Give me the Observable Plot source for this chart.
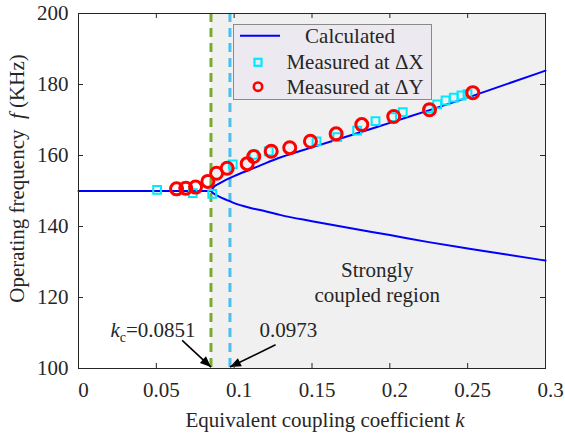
<!DOCTYPE html>
<html>
<head>
<meta charset="utf-8">
<script src="https://cdn.jsdelivr.net/npm/d3@7"></script>
<script src="https://cdn.jsdelivr.net/npm/@observablehq/plot@0.6"></script>
<style>
  body { margin: 0; background: #fff; }
  #chart { width: 565px; height: 435px; }
</style>
</head>
<body>
<div id="chart"></div>
<script>
// Critical coupling and the split point seen in the measurements
const kCritical = 0.0851;
const kSplit = 0.0973;
const kMax = 0.3;

// Axis ticks
const xTicks = [0, 0.05, 0.1, 0.15, 0.2, 0.25, 0.3];
const xTickLabels = ["0", "0.05", "0.1", "0.15", "0.2", "0.25", "0.3"];
const yTicks = [100, 120, 140, 160, 180, 200];

// Calculated operating frequency (kHz): single mode below kc, two branches above
const flatK = [0, 0.0851];
const flatF = [150, 150];
const upperK = [0.0851, 0.087, 0.09, 0.095, 0.1, 0.11, 0.12, 0.13, 0.15, 0.175, 0.2, 0.225, 0.25, 0.275, 0.3];
const upperF = [150, 151.2, 152.0, 153.2, 154.2, 156.0, 157.8, 159.5, 162.3, 165.7, 169.2, 172.7, 176.3, 180.1, 183.9];
const lowerK = [0.0851, 0.087, 0.09, 0.095, 0.1, 0.11, 0.12, 0.13, 0.15, 0.175, 0.2, 0.225, 0.25, 0.275, 0.3];
const lowerF = [150, 149.2, 148.5, 147.5, 146.6, 145.3, 144.3, 143.2, 141.5, 139.5, 137.6, 135.6, 133.8, 132.1, 130.4];

// Measured at ΔX
const measXK = [0.0505, 0.0734, 0.0859, 0.0991, 0.1126, 0.1222, 0.1529, 0.1662, 0.179, 0.1908, 0.2015, 0.2083, 0.225, 0.2304, 0.2358, 0.2411, 0.246, 0.2499];
const measXF = [150.3, 149.4, 149.2, 157.5, 160.2, 161.2, 164.0, 165.2, 167.0, 169.7, 170.8, 172.2, 173.2, 174.4, 175.5, 176.3, 176.9, 177.3];

// Measured at ΔY
const measYK = [0.063, 0.0689, 0.0752, 0.0831, 0.0887, 0.0955, 0.1084, 0.1126, 0.1238, 0.1357, 0.149, 0.1655, 0.182, 0.2025, 0.2255, 0.2533];
const measYF = [150.6, 150.8, 151.1, 152.7, 155.0, 156.4, 157.7, 159.7, 161.2, 162.2, 164.0, 166.1, 168.7, 171.0, 172.9, 177.7];

const legendLabels = ["Calculated", "Measured at \u0394X", "Measured at \u0394Y"];

// Tables built from the arrays above
const calc = [
  ...flatK.map((k, i) => ({k, f: flatF[i], branch: "flat"})),
  ...upperK.map((k, i) => ({k, f: upperF[i], branch: "upper"})),
  ...lowerK.map((k, i) => ({k, f: lowerF[i], branch: "lower"}))
];
const measX = measXK.map((k, i) => ({k, f: measXF[i]}));
const measY = measYK.map((k, i) => ({k, f: measYF[i]}));
const region = [{x1: kCritical, x2: kMax, y1: yTicks[0], y2: yTicks[yTicks.length - 1]}];

// Annotation texts and arrows (arrow tips at the bottom of the dashed lines)
const noteKc = [{k: 0.0752, f: 110.7, text: "kc=0.0851"}];
const noteSplit = [{k: 0.1163, f: 110.7, text: "0.0973"}];
const arrows = [
  {x1: 0.0666, y1: 107.9, x2: kCritical, y2: 100.4},
  {x1: 0.1266, y1: 106.7, x2: kSplit, y2: 100.4}
];
const regionNote = [{k: 0.1919, f: 124.6, text: "Strongly\ncoupled region"}];

const font = "'Liberation Serif', 'Times New Roman', Times, serif";
const ink = "#262626";
const W = 565, H = 435, mL = 78, mR = 20, mT = 13, mB = 67;
const frameW = W - mL - mR, frameH = H - mT - mB;

const svg = Plot.plot({
  width: W, height: H,
  marginLeft: mL, marginRight: mR, marginTop: mT, marginBottom: mB,
  style: {fontFamily: font, fontSize: "21px", color: ink, background: "#fff", overflow: "visible"},
  x: {domain: [0, kMax]},
  y: {domain: [yTicks[0], yTicks[yTicks.length - 1]]},
  marks: [
    Plot.rect(region, {x1: "x1", x2: "x2", y1: "y1", y2: "y2", fill: "#f0f0f0"}),
    Plot.ruleX([kCritical], {stroke: "#77AC30", strokeWidth: 3, strokeDasharray: "9,6"}),
    Plot.ruleX([kSplit], {stroke: "#4DBEEE", strokeWidth: 3, strokeDasharray: "9,6"}),
    Plot.line(calc, {x: "k", y: "f", z: "branch", stroke: "#0000ff", strokeWidth: 2, curve: "monotone-x"}),
    Plot.dot(measX, {x: "k", y: "f", symbol: "square", r: 4.4, stroke: "#00eaff", strokeWidth: 2, fill: "none"}),
    Plot.dot(measY, {x: "k", y: "f", r: 6, stroke: "#ff0000", strokeWidth: 3, fill: "none"}),
    Plot.link(arrows, {x1: "x1", y1: "y1", x2: "x2", y2: "y2", stroke: "#000", strokeWidth: 1.6}),
    Plot.text(noteKc, {x: "k", y: "f", text: "text", textAnchor: "end", fontSize: 21, fill: ink}),
    Plot.text(noteSplit, {x: "k", y: "f", text: "text", textAnchor: "start", fontSize: 21, fill: ink}),
    Plot.text(regionNote, {x: "k", y: "f", text: "text", fontSize: 21, lineHeight: 1.2, fill: ink}),
    // inward ticks on all four sides
    Plot.tickX(xTicks, {x: d => d, insetTop: frameH - 5, stroke: ink}),
    Plot.tickX(xTicks, {x: d => d, insetBottom: frameH - 5, stroke: ink}),
    Plot.tickY(yTicks, {y: d => d, insetRight: frameW - 5, stroke: ink}),
    Plot.tickY(yTicks, {y: d => d, insetLeft: frameW - 5, stroke: ink}),
    Plot.axisX(xTicks, {tickSize: 0, tickPadding: 14, dx: 5, fontSize: 21, label: null, tickFormat: d => xTickLabels[xTicks.indexOf(d)]}),
    Plot.axisY(yTicks, {tickSize: 0, tickPadding: 10, fontSize: 21, label: null, tickFormat: d => String(d)}),
    Plot.frame({stroke: ink, strokeWidth: 1})
  ]
});

const root = d3.select(svg);

// filled arrow heads for the annotation links
root.append("defs").append("marker")
  .attr("id", "head").attr("markerUnits", "userSpaceOnUse").attr("orient", "auto")
  .attr("markerWidth", 16).attr("markerHeight", 16).attr("overflow", "visible")
  .append("path").attr("d", "M0,0L-11,-4.5L-11,4.5Z").attr("fill", "#000");
root.selectAll('g[aria-label="link"] path').attr("marker-end", "url(#head)");

// k with subscript c
root.selectAll("text").filter(function () { return this.textContent === "kc=0.0851"; }).each(function () {
  const t = d3.select(this);
  t.text(null);
  t.append("tspan").attr("font-style", "italic").text("k");
  t.append("tspan").attr("font-size", 14).attr("dy", 5).text("c");
  t.append("tspan").attr("dy", -5).text("=0.0851");
});

// axis titles
const xt = root.append("text").attr("x", 325).attr("y", 427).attr("text-anchor", "middle")
  .attr("font-family", font).attr("font-size", 21).attr("fill", ink);
xt.append("tspan").text("Equivalent coupling coefficient ");
xt.append("tspan").attr("font-style", "italic").text("k");

const yt = root.append("text").attr("transform", "translate(24,178.5) rotate(-90)").attr("text-anchor", "middle")
  .attr("font-family", font).attr("font-size", 21).attr("fill", ink);
yt.append("tspan").text("Operating frequency\u2002");
yt.append("tspan").attr("font-style", "italic").text("f");
yt.append("tspan").text(" (KHz)");

// legend
const lg = root.append("g").attr("font-family", font).attr("font-size", 21).attr("fill", ink);
lg.append("rect").attr("x", 233.5).attr("y", 24.5).attr("width", 198).attr("height", 75)
  .attr("fill", "#eceaf0").attr("stroke", "#8a8a8a");
const rowY = [35.7, 62.3, 86.7];
lg.append("line").attr("x1", 240).attr("x2", 280).attr("y1", rowY[0]).attr("y2", rowY[0])
  .attr("stroke", "#0000ff").attr("stroke-width", 2);
lg.append("rect").attr("x", 254.5).attr("y", rowY[1] - 3.5).attr("width", 7).attr("height", 7)
  .attr("fill", "none").attr("stroke", "#00eaff").attr("stroke-width", 2.2);
lg.append("circle").attr("cx", 258).attr("cy", rowY[2]).attr("r", 4.2)
  .attr("fill", "none").attr("stroke", "#ff0000").attr("stroke-width", 2.6);
legendLabels.forEach((s, i) => {
  lg.append("text").attr("x", i === 0 ? 350 : 355).attr("y", rowY[i] + 7).attr("text-anchor", "middle").text(s);
});

document.getElementById("chart").appendChild(svg);
</script>
</body>
</html>
